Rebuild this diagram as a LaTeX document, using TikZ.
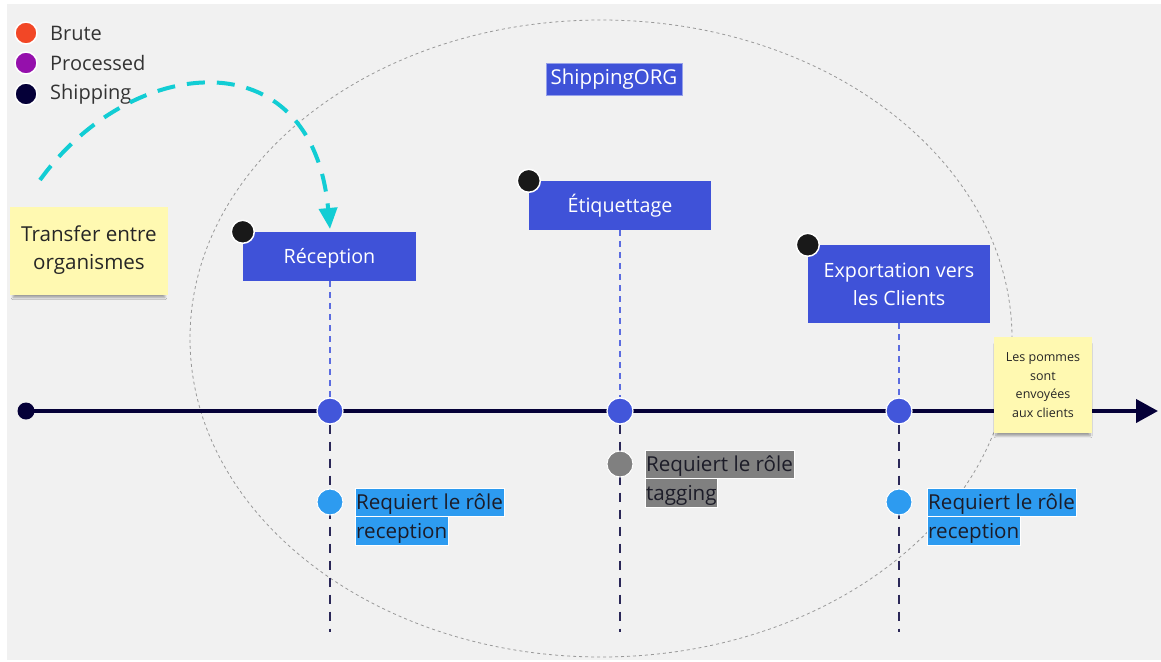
\documentclass[tikz,border=0pt]{standalone}
\usepackage{fontspec}
\setmainfont{Open Sans}
\usetikzlibrary{arrows.meta,shadows.blur}

\definecolor{bggray}{HTML}{F1F1F1}
\definecolor{brute}{HTML}{F24726}
\definecolor{processed}{HTML}{9510AC}
\definecolor{shipping}{HTML}{050038}
\definecolor{flowcyan}{HTML}{12CDD4}
\definecolor{stepblue}{HTML}{3F52D8}
\definecolor{dotblue}{HTML}{4256DA}
\definecolor{roleblue}{HTML}{2D9BF0}
\definecolor{rolegray}{HTML}{808080}
\definecolor{sticky}{HTML}{FFF9B1}
\definecolor{guideblue}{HTML}{5B6CE0}
\definecolor{guidedark}{HTML}{2B2858}
\definecolor{inkdark}{HTML}{1C1C28}

\tikzset{
  legenddot/.style={circle, draw=white, line width=1.5pt, minimum size=22pt, inner sep=0pt},
  legendtxt/.style={anchor=west, text=black!80, font=\fontsize{20}{24}\selectfont, inner sep=0pt},
  stepbox/.style={fill=stepblue, text=white, font=\fontsize{19.7}{28}\selectfont, align=center, inner sep=0pt},
  oneline/.style={text height=18pt, text depth=4pt},
  cornerdot/.style={circle, fill=black!90, draw=white, line width=1.5pt, minimum size=23pt, inner sep=0pt},
  stepdot/.style={circle, fill=dotblue, draw=white, line width=1.2pt, minimum size=26pt, inner sep=0pt},
  roledot/.style={circle, draw=white, line width=1pt, minimum size=26pt, inner sep=0pt},
  roletxt/.style={font=\fontsize{20.6}{24}\selectfont, text=inkdark, inner xsep=1pt, inner ysep=0pt,
                  text height=21.7pt, text depth=6.6pt, draw=white!60, line width=0.4pt},
  upguide/.style={guideblue, line width=1.4pt, dash pattern=on 6pt off 5pt},
  downguide/.style={guidedark, line width=2pt, dash pattern=on 9pt off 8pt},
  stickynote/.style={fill=sticky, inner sep=0pt, align=center, text=black!85,
                     blur shadow={shadow xshift=0pt, shadow yshift=-5pt, shadow opacity=35, shadow blur steps=8, shadow scale=0.96}},
}

\begin{document}
\begin{tikzpicture}[x=1pt, y=-1pt]
  % canvas
  \useasboundingbox (0,0) rectangle (1161,661);
  \fill[white] (0,0) rectangle (1161,661);
  \fill[bggray] (7,4) rectangle (1161,660);

  % organisation boundary
  \draw[black!40, line width=0.8pt, dash pattern=on 3pt off 3pt]
    (601,338.5) ellipse [x radius=411pt, y radius=318.5pt];
  \node[fill=stepblue, draw=stepblue!55!white, line width=0.6pt, text=white, inner sep=0pt,
        minimum width=136pt, minimum height=32pt, font=\fontsize{20.5}{24}\selectfont]
    (org) at (614,79) {ShippingORG};

  % legend
  \node[legenddot, fill=brute] (lgb) at (26,33) {};
  \node[legenddot, fill=processed] (lgp) at (26,63) {};
  \node[legenddot, fill=shipping] (lgs) at (26,94) {};
  \node[legendtxt] (lgbt) at (50,33) {Brute};
  \node[legendtxt] (lgpt) at (50,63) {Processed};
  \node[legendtxt] (lgst) at (50,94) {Shipping};

  % transfer note
  \node[stickynote, minimum width=158pt, minimum height=88pt, font=\fontsize{20.6}{28}\selectfont]
    (transfer) at (89,250.5) {Transfer entre\\organismes};

  % steps
  \node[stepbox, oneline, minimum width=173pt, minimum height=49pt] (rec) at (329.5,256.5) {Réception};
  \node[stepbox, oneline, minimum width=182pt, minimum height=49pt] (tag) at (620,205.5) {Étiquettage};
  \node[stepbox, minimum width=182pt, minimum height=78pt] (exp) at (899,284) {Exportation vers\\les Clients};
  \node[cornerdot] (recdot) at (rec.north west) {};
  \node[cornerdot] (tagdot) at (tag.north west) {};
  \node[cornerdot] (expdot) at (exp.north west) {};

  % flow from the transfer note into reception
  \coordinate (flowstart) at (40,180);
  \coordinate (flowend) at (330,229);
  \draw[flowcyan, line width=4pt, dash pattern=on 18pt off 12pt,
        -{Triangle[length=21pt, width=18pt]}]
    (flowstart) .. controls (130,55) and (312,35) .. (flowend);

  % timeline
  \node[circle, fill=shipping, minimum size=17pt, inner sep=0pt] (tstart) at (26,411) {};
  \coordinate (tend) at (1158,411);
  \draw[shipping, line width=4pt, -{Triangle[length=22pt, width=23pt]}] (tstart.center) -- (tend);

  % bottom ends of the guides
  \coordinate (recbot) at (330,632);
  \coordinate (tagbot) at (620,632);
  \coordinate (expbot) at (899,632);

  \node[stepdot] (recpt) at (330,411) {};
  \node[stepdot] (tagpt) at (620,411) {};
  \node[stepdot] (exppt) at (899,411) {};

  \draw[upguide] (rec.south -| recpt) -- (recpt.north);
  \draw[upguide] (tag.south) -- (tagpt.north);
  \draw[upguide] (exp.south) -- (exppt.north);
  \draw[downguide] (recpt.south) -- (recbot);
  \draw[downguide] (tagpt.south) -- (tagbot);
  \draw[downguide] (exppt.south) -- (expbot);

  % roles
  \node[roledot, fill=roleblue] (recrole) at (330,502) {};
  \node[roledot, fill=rolegray] (tagrole) at (620,464) {};
  \node[roledot, fill=roleblue] (exprole) at (899,502) {};

  \node[roletxt, fill=roleblue, anchor=west] (recl1) at (355,502) {Requiert le rôle};
  \node[roletxt, fill=roleblue, anchor=north west] (recl2) at (recl1.south west) {reception};
  \node[roletxt, fill=rolegray, anchor=west] (tagl1) at (645,464) {Requiert le rôle};
  \node[roletxt, fill=rolegray, anchor=north west] (tagl2) at (tagl1.south west) {tagging};
  \node[roletxt, fill=roleblue, anchor=west] (expl1) at (927,502) {Requiert le rôle};
  \node[roletxt, fill=roleblue, anchor=north west] (expl2) at (expl1.south west) {reception};

  % shipping note
  \node[stickynote, minimum width=98pt, minimum height=96pt, font=\fontsize{12.5}{18.6}\selectfont]
    (clients) at (1043,385) {\vspace*{-2pt}Les pommes\\sont\\envoyées\\aux clients};
\end{tikzpicture}
\end{document}
